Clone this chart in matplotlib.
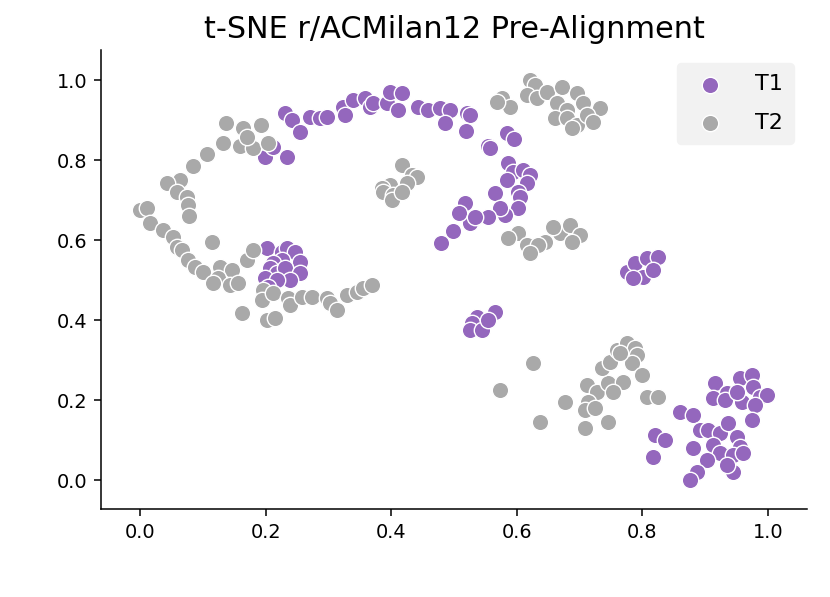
import matplotlib
matplotlib.use("Agg")
import matplotlib.pyplot as plt
import numpy as np

plt.rcParams['font.family'] = ['DejaVu Sans']

title = "t-SNE r/ACMilan12 Pre-Alignment"
labels = ["T1", "T2"]
colors = ["#9467bd", "#a9a9a9"]

t1_x = [0.231, 0.242, 0.255, 0.271, 0.287, 0.298, 0.323, 0.326, 0.339, 0.358,
        0.366, 0.371, 0.393, 0.398, 0.417, 0.411, 0.443, 0.459, 0.478, 0.494,
        0.486, 0.521, 0.525, 0.519, 0.199, 0.234, 0.212,
        0.554, 0.557, 0.584, 0.596, 0.586, 0.594, 0.610, 0.621, 0.616, 0.584,
        0.565, 0.602, 0.605, 0.602, 0.581, 0.573, 0.554, 0.525, 0.518, 0.508,
        0.533, 0.498, 0.479,
        0.202, 0.226, 0.234, 0.247, 0.255, 0.226, 0.212, 0.207, 0.218, 0.231,
        0.255, 0.239, 0.199, 0.218, 0.204,
        0.565, 0.537, 0.529, 0.525, 0.545, 0.554,
        0.775, 0.788, 0.807, 0.825, 0.801, 0.817, 0.785,
        0.860, 0.881, 0.820, 0.836, 0.817, 0.916, 0.935, 0.912, 0.932, 0.955,
        0.975, 0.976, 0.987, 0.998, 0.959, 0.979, 0.975, 0.951, 0.892, 0.904,
        0.924, 0.936, 0.951, 0.955, 0.881, 0.912, 0.924, 0.944, 0.960, 0.903,
        0.944, 0.887, 0.876, 0.935]
t1_y = [0.918, 0.900, 0.870, 0.908, 0.905, 0.908, 0.933, 0.913, 0.950, 0.955,
        0.933, 0.943, 0.943, 0.970, 0.968, 0.925, 0.933, 0.925, 0.930, 0.925,
        0.893, 0.918, 0.913, 0.873, 0.808, 0.808, 0.833,
        0.835, 0.830, 0.868, 0.853, 0.793, 0.770, 0.775, 0.763, 0.743, 0.750,
        0.718, 0.720, 0.708, 0.680, 0.663, 0.680, 0.658, 0.643, 0.693, 0.668,
        0.658, 0.623, 0.593,
        0.580, 0.570, 0.580, 0.570, 0.545, 0.550, 0.543, 0.530, 0.518, 0.530,
        0.518, 0.500, 0.505, 0.500, 0.483,
        0.420, 0.408, 0.393, 0.375, 0.375, 0.400,
        0.520, 0.543, 0.555, 0.558, 0.508, 0.525, 0.505,
        0.170, 0.163, 0.113, 0.100, 0.058, 0.243, 0.218, 0.205, 0.200, 0.255,
        0.263, 0.233, 0.208, 0.213, 0.195, 0.188, 0.150, 0.220, 0.125, 0.125,
        0.118, 0.143, 0.108, 0.083, 0.080, 0.088, 0.068, 0.063, 0.068, 0.050,
        0.020, 0.020, 0.000, 0.038]

t2_x = [0.137, 0.164, 0.193, 0.132, 0.159, 0.180, 0.204, 0.170, 0.107, 0.084,
        0.064, 0.043, 0.059, 0.075, 0.076, 0.078, 0.000, 0.011, 0.016, 0.037,
        0.053, 0.059, 0.067, 0.076, 0.088, 0.100, 0.115, 0.127, 0.146, 0.124,
        0.116, 0.143, 0.156, 0.170, 0.180,
        0.196, 0.194, 0.212, 0.236, 0.239, 0.258, 0.274, 0.298, 0.303, 0.314,
        0.330, 0.346, 0.355, 0.369, 0.162, 0.202, 0.215,
        0.417, 0.433, 0.441, 0.425, 0.398, 0.385, 0.387, 0.403, 0.401, 0.417,
        0.576, 0.589, 0.568, 0.621, 0.629, 0.616, 0.632, 0.648, 0.672, 0.696,
        0.664, 0.680, 0.705, 0.732, 0.661, 0.680, 0.696, 0.712, 0.721, 0.688,
        0.602, 0.586, 0.616, 0.645, 0.634, 0.669, 0.685, 0.701, 0.688, 0.658,
        0.621,
        0.626, 0.573, 0.637, 0.677, 0.709, 0.745, 0.712, 0.728, 0.713, 0.709,
        0.725, 0.745, 0.769, 0.753, 0.736, 0.748, 0.760, 0.775, 0.788, 0.791,
        0.783, 0.799, 0.807, 0.825, 0.764]
t2_y = [0.893, 0.880, 0.888, 0.843, 0.835, 0.830, 0.843, 0.858, 0.815, 0.785,
        0.750, 0.743, 0.720, 0.708, 0.688, 0.660, 0.675, 0.680, 0.643, 0.625,
        0.608, 0.583, 0.575, 0.550, 0.533, 0.520, 0.595, 0.533, 0.525, 0.505,
        0.493, 0.488, 0.493, 0.550, 0.575,
        0.475, 0.450, 0.468, 0.455, 0.438, 0.458, 0.458, 0.455, 0.443, 0.425,
        0.463, 0.470, 0.480, 0.488, 0.418, 0.400, 0.405,
        0.788, 0.763, 0.758, 0.743, 0.738, 0.730, 0.720, 0.713, 0.700, 0.720,
        0.955, 0.933, 0.945, 1.000, 0.988, 0.963, 0.955, 0.970, 0.983, 0.968,
        0.943, 0.925, 0.943, 0.930, 0.905, 0.905, 0.888, 0.913, 0.895, 0.880,
        0.618, 0.605, 0.588, 0.595, 0.588, 0.618, 0.638, 0.613, 0.595, 0.633,
        0.568,
        0.293, 0.225, 0.145, 0.195, 0.130, 0.145, 0.238, 0.220, 0.195, 0.175,
        0.180, 0.243, 0.245, 0.220, 0.280, 0.295, 0.325, 0.343, 0.330, 0.313,
        0.293, 0.263, 0.208, 0.208, 0.318]

x_ticks = [0.0, 0.2, 0.4, 0.6, 0.8, 1.0]
y_ticks = [0.0, 0.2, 0.4, 0.6, 0.8, 1.0]

fig = plt.figure(figsize=(8.3, 5.97), dpi=100)
ax = fig.add_axes([101/830, 1 - 509/597, (807-101)/830, (509-50)/597])

ax.scatter(t1_x, t1_y, s=140, c=colors[0], edgecolors="white", linewidths=1.0, label=labels[0], zorder=2)
ax.scatter(t2_x, t2_y, s=140, c=colors[1], edgecolors="white", linewidths=1.0, label=labels[1], zorder=2)

ax.set_xlim(-0.0625, 1.0625)
ax.set_ylim(-0.0725, 1.075)
ax.set_xticks(x_ticks)
ax.set_yticks(y_ticks)
ax.set_xticklabels([f"{v:.1f}" for v in x_ticks])
ax.set_yticklabels([f"{v:.1f}" for v in y_ticks])
ax.tick_params(labelsize=13.9, length=4.9, width=1.1, pad=4.9)
for side in ["top", "right"]:
    ax.spines[side].set_visible(False)
for side in ["left", "bottom"]:
    ax.spines[side].set_linewidth(1.1)

ax.set_title(title, fontsize=21.8, pad=8.3)

leg = ax.legend(loc="upper right", fontsize=16, handletextpad=1.0, borderaxespad=0.6,
                borderpad=0.5, labelspacing=0.82,
                frameon=True, facecolor="#f2f2f2", edgecolor="#f2f2f2", framealpha=1.0)

fig.savefig("out.png", dpi=100)
